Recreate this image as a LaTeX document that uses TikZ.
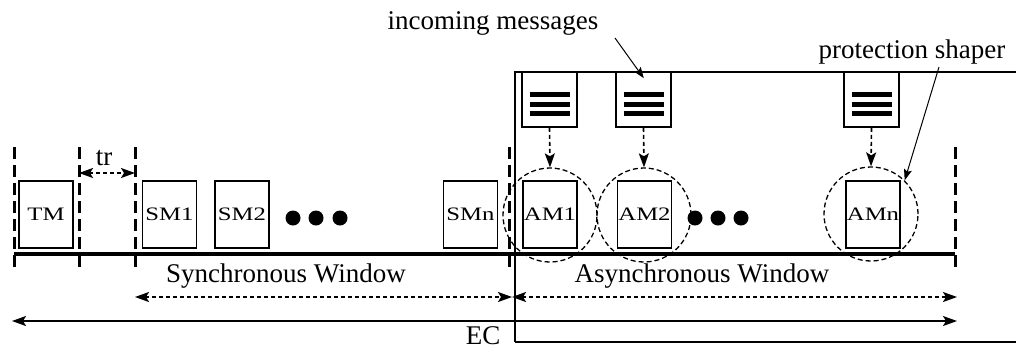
\documentclass[tikz,border=0pt]{standalone}
\usepackage{fontspec}
\setmainfont{Liberation Serif}
\usetikzlibrary{arrows.meta,calc}

\begin{document}
\begin{tikzpicture}[x=1pt,y=-1pt,
  msgbox/.style={draw, line width=1.6pt, minimum width=54pt, minimum height=67pt,
    inner sep=0pt, font=\fontsize{19}{19}\selectfont},
  queue/.style={draw, line width=1.6pt, minimum width=55pt, minimum height=55pt, inner sep=0pt},
  shaper/.style={circle, draw, line width=1.3pt, dash pattern=on 5pt off 3pt,
    minimum size=94pt, inner sep=0pt},
  ruler/.style={line width=3pt, dash pattern=on 12pt off 6pt},
  bar/.style={line width=5pt},
  dot/.style={circle, fill, minimum size=15pt, inner sep=0pt},
  lbl/.style={font=\fontsize{27}{27}\selectfont, inner sep=0pt},
  tip/.style={-{Stealth[length=14pt,width=10pt,inset=3pt]}},
  dtip/.style={{Stealth[length=14pt,width=10pt,inset=3pt]}-{Stealth[length=14pt,width=10pt,inset=3pt]}},
  dashedarrow/.style={line width=1.6pt, dash pattern=on 4pt off 3pt},
  pointer/.style={line width=1pt, -{Stealth[length=11pt,width=8pt,inset=2pt]}}
]
\useasboundingbox (0,0) rectangle (1016,349);

% boundary of the asynchronous part
\draw[line width=1.5pt] (515,342) -- (515,72) -- (1018,72);
\draw[line width=1.5pt] (515,342) -- (1018,342);

% time line
\coordinate (t0) at (14,254);
\coordinate (t1) at (955,254);
\draw[line width=4pt] (t0) -- (t1);

% window boundaries
\foreach \n/\x in {ra/14.5, rb/79, rc/135, rd/509, re/955}{
  \coordinate (\n top) at (\x,147);
  \coordinate (\n bot) at (\x,268);
  \draw[ruler] (\n top) -- (\n bot);
}

% message slots
\node[msgbox] (TM)  at (46,214.5)  {\scalebox{1.3}[1]{TM}};
\node[msgbox] (SM1) at (169.5,214.5) {\scalebox{1.3}[1]{SM1}};
\node[msgbox] (SM2) at (242,214.5) {\scalebox{1.3}[1]{SM2}};
\node[msgbox] (SMn) at (470.5,214.5) {\scalebox{1.3}[1]{SMn}};
\node[msgbox] (AM1) at (550,214.5) {\scalebox{1.3}[1]{AM1}};
\node[msgbox] (AM2) at (644.5,214.5) {\scalebox{1.3}[1]{AM2}};
\node[msgbox] (AMn) at (873,214.5) {\scalebox{1.3}[1]{AMn}};

% ellipsis dots
\foreach \x/\n in {293/d1, 316/d2, 340/d3, 695/d4, 718/d5, 741/d6}
  \node[dot] (\n) at (\x,218) {};

% protection shapers
\node[shaper] (C1) at (550,215) {};
\node[shaper] (C2) at (644,215) {};
\node[shaper] (Cn) at (871,214) {};

% incoming message queues
\node[queue] (Q1) at (549.5,99.5) {};
\node[queue] (Q2) at (643.5,99.5) {};
\node[queue] (Qn) at (871.5,99.5) {};
\foreach \q in {Q1,Q2,Qn}{
  \foreach \dy in {-5,4.5,14}{
    \draw[bar] ($(\q.center)+(-20,\dy)$) -- ($(\q.center)+(20,\dy)$);
  }
}

% queue to shaper
\draw[dashedarrow, tip] (Q1.south) -- (C1.north);
\draw[dashedarrow, tip] (Q2.south) -- (C2.north);
\draw[dashedarrow, tip] (Qn.south) -- (Cn.north);

% tr interval
\coordinate (trL) at (79,173);
\coordinate (trR) at (135,173);
\draw[dashedarrow, dtip] (trL) -- (trR);
\node[lbl] (tr) at (104,158) {tr};

% windows
\coordinate (swL) at (135,297);
\coordinate (swR) at (512,297);
\coordinate (awR) at (957,297);
\draw[dashedarrow, dtip] (swL) -- (swR);
\draw[dashedarrow, dtip] (swR) -- (awR);
\node[lbl] (sw) at (286,276) {Synchronous Window};
\node[lbl] (aw) at (702,276) {Asynchronous Window};

% elementary cycle
\coordinate (ecL) at (12,321);
\coordinate (ecR) at (957,321);
\draw[line width=1.6pt, dtip] (ecL) -- (ecR);
\node[lbl] (EC) at (483,336) {EC};

% annotations
\node[lbl] (inc) at (493,23) {incoming messages};
\node[lbl] (prot) at (912,52) {protection shaper};
\draw[pointer] (615,38) -- ($(Q2.north east)+(-28,7)$);
\draw[pointer] (939,67) -- (Cn.north east);
\end{tikzpicture}
\end{document}
